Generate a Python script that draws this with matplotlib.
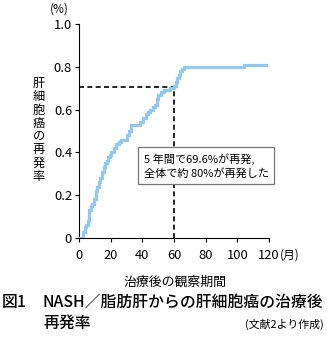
import matplotlib
matplotlib.use("Agg")
import matplotlib.pyplot as plt

plt.rcParams['font.family'] = ['Noto Sans CJK JP', 'DejaVu Sans']

# data (months, cumulative recurrence)
months = [0, 1.7, 2.5, 3.5, 4.5, 5.5, 6.5, 7.5, 8.5, 9.5, 10.5, 11.5, 12.5,
          13.5, 14.5, 15.5, 16.5, 17.5, 18.5, 19.5, 20.5, 22, 23.5, 25, 26.5,
          28, 30, 31.5, 33, 36, 38.5, 40.5, 42, 43.5, 45, 47, 48, 49, 50,
          51.5, 53.5, 55.5, 57.5, 60, 61, 62, 63, 64, 65, 66.5, 104.5, 118]
rate = [0, 0.0, 0.03, 0.05, 0.06, 0.08, 0.13, 0.15, 0.16, 0.18, 0.22, 0.24,
        0.26, 0.28, 0.31, 0.33, 0.35, 0.36, 0.38, 0.39, 0.40, 0.42, 0.44,
        0.45, 0.46, 0.46, 0.48, 0.50, 0.53, 0.53, 0.54, 0.56, 0.58, 0.59,
        0.60, 0.61, 0.62, 0.65, 0.67, 0.68, 0.69, 0.69, 0.70, 0.71, 0.73,
        0.75, 0.76, 0.78, 0.79, 0.80, 0.81, 0.81]

five_year = 60
five_year_rate = 0.705

xticks = [0, 20, 40, 60, 80, 100, 120]
yticks = [0, 0.2, 0.4, 0.6, 0.8, 1.0]
ytick_labels = ["0", "0.2", "0.4", "0.6", "0.8", "1.0"]

fig = plt.figure(figsize=(3.27, 3.45), dpi=100)
ax = fig.add_axes([79 / 327, 1 - 238 / 345, 190 / 327, 214 / 345])

ax.plot(months, rate, drawstyle="steps-post", color="#93c9f1", lw=2.3,
        solid_joinstyle="miter", zorder=3)
ax.plot([0, five_year], [five_year_rate, five_year_rate], color="black",
        lw=1.2, ls=(0, (3, 2)), zorder=2)
ax.plot([five_year, five_year], [0, five_year_rate], color="black",
        lw=1.2, ls=(0, (3, 2)), zorder=2)

ax.set_xlim(0, 120)
ax.set_ylim(0, 1.0)
ax.set_xticks(xticks)
ax.set_yticks(yticks)
ax.set_yticklabels(ytick_labels)
ax.tick_params(labelsize=9.3, length=3, width=0.8, pad=2, direction="out")
ax.tick_params(axis="x", pad=5)
for s in ["top", "right"]:
    ax.spines[s].set_visible(False)
for s in ["left", "bottom"]:
    ax.spines[s].set_linewidth(0.8)

ax.text(41.0, 0.398, "5 年間で69.6%が再発,\n全体で約 80%が再発した",
        fontsize=8, ha="left", va="top", linespacing=1.35, zorder=4,
        bbox=dict(boxstyle="square,pad=0.5", facecolor="white",
                  edgecolor="#777777", lw=0.9))

fig.text(50 / 327, 1 - 9 / 345, "(%)", fontsize=8.5, ha="left", va="center")
fig.text(280 / 327, 1 - 255 / 345, "(月)", fontsize=8.5, ha="left", va="center")
fig.text(39 / 327, 1 - 130 / 345, "\n".join("肝細胞癌の再発率"), fontsize=8.8,
         ha="center", va="center", linespacing=1.03)
fig.text(175 / 327, 1 - 282 / 345, "治療後の観察期間", fontsize=9.3,
         ha="center", va="center")
fig.text(2 / 327, 1 - 302 / 345, "図1", fontsize=11.4, fontweight="medium",
         ha="left", va="center")
fig.text(43 / 327, 1 - 302 / 345, "NASH／脂肪肝からの肝細胞癌の治療後",
         fontsize=11.4, fontweight="medium", ha="left", va="center")
fig.text(43 / 327, 1 - 323 / 345, "再発率", fontsize=11.4, fontweight="medium",
         ha="left", va="center")
fig.text(324 / 327, 1 - 324 / 345, "(文献2より作成)", fontsize=7.8,
         ha="right", va="center")

fig.savefig("out.png", dpi=100)
